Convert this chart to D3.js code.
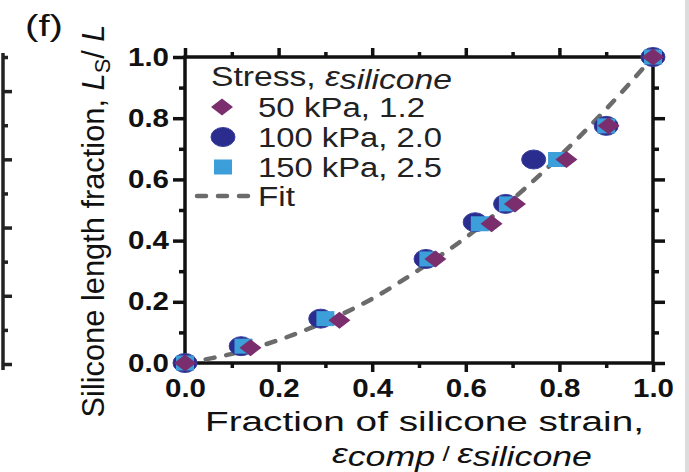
<!DOCTYPE html>
<html>
<head>
<meta charset="utf-8">
<script src="https://cdn.jsdelivr.net/npm/d3@7"></script>
<style>
  body { margin: 0; background: #fff; }
  svg { display: block; font-family: "Liberation Sans", Arial, sans-serif; }
</style>
</head>
<body>
<svg width="689" height="472"></svg>
<script>
// **** data ****
var strain50  = [0, 0.14, 0.33, 0.535, 0.655, 0.705, 0.815, 0.905, 1.0];
var length50  = [0, 0.05, 0.14, 0.34, 0.455, 0.52, 0.665, 0.775, 1.0];
var strain100 = [0, 0.12, 0.29, 0.515, 0.62, 0.685, 0.745, 0.90, 1.0];
var length100 = [0, 0.055, 0.145, 0.34, 0.46, 0.52, 0.665, 0.775, 1.0];
var strain150 = [0, 0.125, 0.30, 0.52, 0.63, 0.69, 0.795, 0.90, 1.0];
var length150 = [0, 0.055, 0.145, 0.34, 0.455, 0.52, 0.665, 0.775, 1.0];

var fitX = [0, 0.1, 0.2, 0.3, 0.4, 0.5, 0.6, 0.7, 0.8, 0.9, 1.0];
var fitY = [0, 0.03, 0.075, 0.135, 0.21, 0.305, 0.41, 0.535, 0.675, 0.83, 1.0];

var majorTicks = [0, 0.2, 0.4, 0.6, 0.8, 1.0];
var minorTicks = [0.1, 0.3, 0.5, 0.7, 0.9];
var legendLabels = ["50 kPa, 1.2", "100 kPa, 2.0", "150 kPa, 2.5", "Fit"];

// **** scales ****
var xScale = d3.scaleLinear().domain([0, 1]).range([185, 653]);
var yScale = d3.scaleLinear().domain([0, 1]).range([363, 57]);
// neighbouring panel (e), only its right edge shows
var prevScale = d3.scaleLinear().domain([0, 9]).range([364, 57]);

var svg = d3.select("svg");

var purple = "#7a2e6e", navy = "#2a2d8e", sky = "#3d9fd9", gray = "#6b6b6b";

// stretched text helper (figure is a bit wider than tall)
function stretch(sel, w) {
    sel.attr("textLength", w).attr("lengthAdjust", "spacingAndGlyphs");
}

// **** panel (e) edge ****
svg.append("line").attr("x1", 3).attr("x2", 3)
    .attr("y1", 53).attr("y2", 370)
    .attr("stroke", "#222").attr("stroke-width", 3.5);
svg.append("g").attr("transform", "translate(3,0)")
    .call(d3.axisRight(prevScale).tickValues(d3.range(0, 10, 2)).tickSize(9).tickFormat(""))
    .call(function(g) { g.select(".domain").remove(); g.selectAll("line").attr("stroke", "#222").attr("stroke-width", 3.5); });
svg.append("g").attr("transform", "translate(3,0)")
    .call(d3.axisRight(prevScale).tickValues(d3.range(1, 10, 2)).tickSize(5).tickFormat(""))
    .call(function(g) { g.select(".domain").remove(); g.selectAll("line").attr("stroke", "#222").attr("stroke-width", 3.5); });

// **** axes ****
function styleAxis(g) {
    g.select(".domain").remove();
    g.selectAll("line").attr("stroke", "#111").attr("stroke-width", 3.5);
    g.selectAll("text").attr("fill", "#111").attr("font-size", 25)
        .attr("font-weight", "bold").attr("font-family", "Liberation Sans, Arial, sans-serif")
        .call(stretch, 41);
}
var fmt = d3.format(".1f");

svg.append("g").attr("transform", "translate(0,363)")
    .call(d3.axisBottom(xScale).tickValues(majorTicks).tickSize(9).tickPadding(7).tickFormat(fmt))
    .call(styleAxis);
svg.append("g").attr("transform", "translate(0,363)")
    .call(d3.axisBottom(xScale).tickValues(minorTicks).tickSize(5).tickFormat(""))
    .call(styleAxis);
svg.append("g").attr("transform", "translate(0,57)")
    .call(d3.axisTop(xScale).tickValues(majorTicks).tickSize(9).tickFormat(""))
    .call(styleAxis);
svg.append("g").attr("transform", "translate(0,57)")
    .call(d3.axisTop(xScale).tickValues(minorTicks).tickSize(5).tickFormat(""))
    .call(styleAxis);

svg.append("g").attr("transform", "translate(185,0)")
    .call(d3.axisLeft(yScale).tickValues(majorTicks).tickSize(12).tickPadding(4).tickFormat(fmt))
    .call(styleAxis);
svg.append("g").attr("transform", "translate(185,0)")
    .call(d3.axisLeft(yScale).tickValues(minorTicks).tickSize(6).tickFormat(""))
    .call(styleAxis);
svg.append("g").attr("transform", "translate(653,0)")
    .call(d3.axisRight(yScale).tickValues(majorTicks).tickSize(12).tickFormat(""))
    .call(styleAxis);
svg.append("g").attr("transform", "translate(653,0)")
    .call(d3.axisRight(yScale).tickValues(minorTicks).tickSize(6).tickFormat(""))
    .call(styleAxis);

svg.append("rect")
    .attr("x", xScale(0)).attr("y", yScale(1))
    .attr("width", xScale(1) - xScale(0)).attr("height", yScale(0) - yScale(1))
    .attr("fill", "none").attr("stroke", "#111").attr("stroke-width", 3.5);

// **** fit line ****
var fitLine = d3.line()
    .x(function(d) { return xScale(d[0]); })
    .y(function(d) { return yScale(d[1]); })
    .curve(d3.curveMonotoneX);

svg.append("path")
    .datum(d3.zip(fitX, fitY))
    .attr("d", fitLine)
    .attr("fill", "none").attr("stroke", gray).attr("stroke-width", 4.5)
    .attr("stroke-dasharray", "9,12").attr("stroke-linecap", "round");

// **** markers ****
function drawCircle(g, cx, cy) {
    g.append("ellipse").attr("cx", cx).attr("cy", cy).attr("rx", 12).attr("ry", 9.5)
        .attr("fill", navy).attr("stroke", "#3a3fa0").attr("stroke-width", 1);
}
function drawSquare(g, cx, cy) {
    g.append("rect").attr("x", cx - 9).attr("y", cy - 7.5).attr("width", 18).attr("height", 15)
        .attr("fill", sky);
}
function drawDiamond(g, cx, cy) {
    g.append("path")
        .attr("d", "M" + (cx - 11) + "," + cy + "L" + cx + "," + (cy - 8.5) +
                   "L" + (cx + 11) + "," + cy + "L" + cx + "," + (cy + 8.5) + "Z")
        .attr("fill", purple);
}

var marks = svg.append("g");
d3.zip(strain100, length100).forEach(function(d) { drawCircle(marks, xScale(d[0]), yScale(d[1])); });
d3.zip(strain150, length150).forEach(function(d) { drawSquare(marks, xScale(d[0]), yScale(d[1])); });
d3.zip(strain50, length50).forEach(function(d) { drawDiamond(marks, xScale(d[0]), yScale(d[1])); });

// **** legend ****
var legend = svg.append("g").attr("fill", "#222").attr("font-size", 27);

var head = legend.append("text").attr("x", 211).attr("y", 86);
head.append("tspan").text("Stress, ");
head.append("tspan").attr("font-style", "italic").text("\u03b5");
head.append("tspan").attr("font-style", "italic").attr("dy", 3).text("silicone");
stretch(head, 241);

var rowY = [107, 137, 167, 196];
var rowW = [167, 184, 184, 37];
drawDiamond(legend, 222, rowY[0]);
drawCircle(legend, 223, rowY[1]);
drawSquare(legend, 223, rowY[2]);
legend.append("line").attr("x1", 197).attr("x2", 249)
    .attr("y1", rowY[3]).attr("y2", rowY[3])
    .attr("stroke", gray).attr("stroke-width", 4.5)
    .attr("stroke-dasharray", "9,12").attr("stroke-linecap", "round");

legendLabels.forEach(function(t, i) {
    legend.append("text").attr("x", 258).attr("y", rowY[i] + 10).text(t)
        .call(stretch, rowW[i]);
});

// **** axis titles ****
var xt = svg.append("g").attr("fill", "#111").attr("font-size", 27);
xt.append("text").attr("x", 205).attr("y", 431)
    .text("Fraction of silicone strain,").call(stretch, 439);
var xt2 = xt.append("text").attr("x", 332).attr("y", 463)
    .attr("font-style", "italic").attr("font-size", 27);
xt2.append("tspan").text("\u03b5");
xt2.append("tspan").attr("dy", 3).text("comp");
xt2.append("tspan").attr("dy", -5).attr("font-style", "normal").attr("font-size", 20).text(" / ");
xt2.append("tspan").attr("dy", 2).text("\u03b5");
xt2.append("tspan").attr("dy", 3).text("silicone");
stretch(xt2, 260);

var yt = svg.append("text")
    .attr("transform", "translate(104,221) rotate(-90)")
    .attr("text-anchor", "middle").attr("fill", "#111").attr("font-size", 31);
yt.append("tspan").text("Silicone length fraction, ");
yt.append("tspan").attr("font-style", "italic").text("L");
yt.append("tspan").attr("font-size", 22).attr("dy", 6).text("S");
yt.append("tspan").attr("dy", -6).text("/ ");
yt.append("tspan").attr("font-style", "italic").text("L");
stretch(yt, 393);

svg.append("text").attr("x", 25).attr("y", 36)
    .attr("font-size", 30).attr("fill", "#111").text("(f)")
    .call(stretch, 38);

// light border strip at the right edge
svg.append("rect").attr("x", 685).attr("y", 0).attr("width", 4).attr("height", 472)
    .attr("fill", "#dcdcdc");
</script>
</body>
</html>
